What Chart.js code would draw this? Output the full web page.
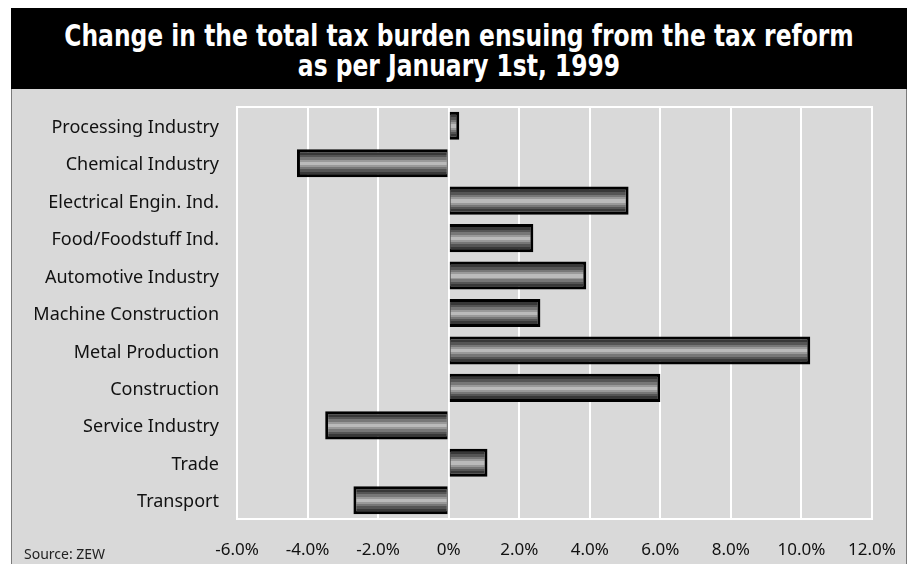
<!DOCTYPE html>
<html>
<head>
<meta charset="utf-8">
<script src="https://cdn.jsdelivr.net/npm/chart.js@4.4.1/dist/chart.umd.min.js"></script>
<style>
  html, body { margin: 0; padding: 0; background: #ffffff; width: 912px; height: 564px; overflow: hidden; }
  #band { position: absolute; left: 11px; top: 8px; width: 896px; height: 81px; background: #000; color: #fff;
          font-family: "DejaVu Sans", sans-serif; font-weight: bold;
          font-size: 30px; line-height: 30px; box-sizing: border-box; padding-top: 13px; white-space: nowrap; }
  #band .line { position: relative; height: 30px; }
  #band .line span { position: absolute; left: 50%; top: 0; transform: translateX(-50%) scaleX(0.78); }
  #panel { position: absolute; left: 11px; top: 89px; width: 896px; height: 475px; background: #d9d9d9;
           border-left: 1px solid #7a7a7a; border-right: 1px solid #7a7a7a; box-sizing: border-box; }
  #wrap { position: absolute; left: 11px; top: 89px; width: 896px; height: 475px; }
  #source { position: absolute; left: 24px; top: 544px; font-family: "Noto Sans", sans-serif; font-size: 14px; color: #222; }
</style>
</head>
<body>
<div id="band"><div class="line"><span>Change in the total tax burden ensuing from the tax reform</span></div><div class="line"><span>as per January 1st, 1999</span></div></div>
<div id="panel"></div>
<div id="wrap"><canvas id="c" width="896" height="475"></canvas></div>
<div id="source">Source: ZEW</div>
<script>
const categories = [
  "Processing Industry",
  "Chemical Industry",
  "Electrical Engin. Ind.",
  "Food/Foodstuff Ind.",
  "Automotive Industry",
  "Machine Construction",
  "Metal Production",
  "Construction",
  "Service Industry",
  "Trade",
  "Transport"
];
const changePct = [0.3, -4.3, 5.1, 2.4, 3.9, 2.6, 10.25, 6.0, -3.5, 1.1, -2.7];
const tickValues = [-6, -4, -2, 0, 2, 4, 6, 8, 10, 12];
const tickLabels = ["-6.0%", "-4.0%", "-2.0%", "0%", "2.0%", "4.0%", "6.0%", "8.0%", "10.0%", "12.0%"];

const BAR_PCT = 0.75;

function stripeFill(ctx) {
  const chart = ctx.chart;
  const area = chart.chartArea;
  if (!area) return '#888';
  const yScale = chart.scales.y;
  const yc = yScale.getPixelForValue(ctx.dataIndex);
  const h = (area.bottom - area.top) / categories.length * BAR_PCT;
  const g = chart.ctx.createLinearGradient(0, yc - h / 2, 0, yc + h / 2);
  const bands = [
    [0.00, '#000000'], [0.11, '#383838'], [0.20, '#555555'], [0.29, '#777777'],
    [0.38, '#999999'], [0.45, '#bababa'], [0.57, '#999999'], [0.64, '#777777'],
    [0.72, '#555555'], [0.80, '#383838'], [0.89, '#000000']
  ];
  for (let i = 0; i < bands.length; i++) {
    const start = bands[i][0];
    const end = i + 1 < bands.length ? bands[i + 1][0] : 1;
    g.addColorStop(start, bands[i][1]);
    g.addColorStop(Math.max(start, end - 0.0001), bands[i][1]);
  }
  return g;
}

const boxPlugin = {
  id: 'boxPlugin',
  beforeDatasetsDraw(chart) {
    const { ctx, chartArea: a } = chart;
    ctx.save();
    ctx.strokeStyle = '#ffffff';
    ctx.lineWidth = 2;
    ctx.strokeRect(a.left, a.top, a.right - a.left, a.bottom - a.top);
    ctx.restore();
  }
};

function zeroPad(scale) {
  scale.paddingTop = 0; scale.paddingBottom = 0; scale.paddingLeft = 0; scale.paddingRight = 0;
}

new Chart(document.getElementById('c'), {
  type: 'bar',
  data: {
    labels: categories,
    datasets: [{
      data: changePct,
      backgroundColor: stripeFill,
      borderColor: '#000000',
      borderSkipped: false,
      borderWidth: (ctx) => {
        const v = ctx.raw;
        return v >= 0 ? { left: 1, right: 3, top: 3, bottom: 3 } : { left: 3, right: 1, top: 3, bottom: 3 };
      },
      barPercentage: BAR_PCT,
      categoryPercentage: 1.0
    }]
  },
  options: {
    indexAxis: 'y',
    responsive: false,
    animation: false,
    layout: { padding: { top: 18, right: 35, left: 0, bottom: 0 } },
    plugins: { legend: { display: false }, tooltip: { enabled: false } },
    scales: {
      x: {
        min: -6, max: 12,
        afterBuildTicks(scale) { scale.ticks = tickValues.map(v => ({ value: v })); },
        afterFit(scale) { scale.height = 45; zeroPad(scale); },
        grid: { color: '#ffffff', lineWidth: 2, drawTicks: false },
        border: { display: false },
        ticks: {
          padding: 21,
          color: '#111',
          maxRotation: 0,
          autoSkip: false,
          font: { family: 'Noto Sans', size: 17 },
          callback: (v, i) => tickLabels[i]
        }
      },
      y: {
        afterFit(scale) { scale.width = 226; zeroPad(scale); },
        grid: { display: false, drawTicks: false },
        border: { display: false },
        ticks: {
          padding: 18,
          labelOffset: 2,
          color: '#111',
          font: { family: 'Noto Sans', size: 18 }
        }
      }
    }
  },
  plugins: [boxPlugin]
});
</script>
</body>
</html>
